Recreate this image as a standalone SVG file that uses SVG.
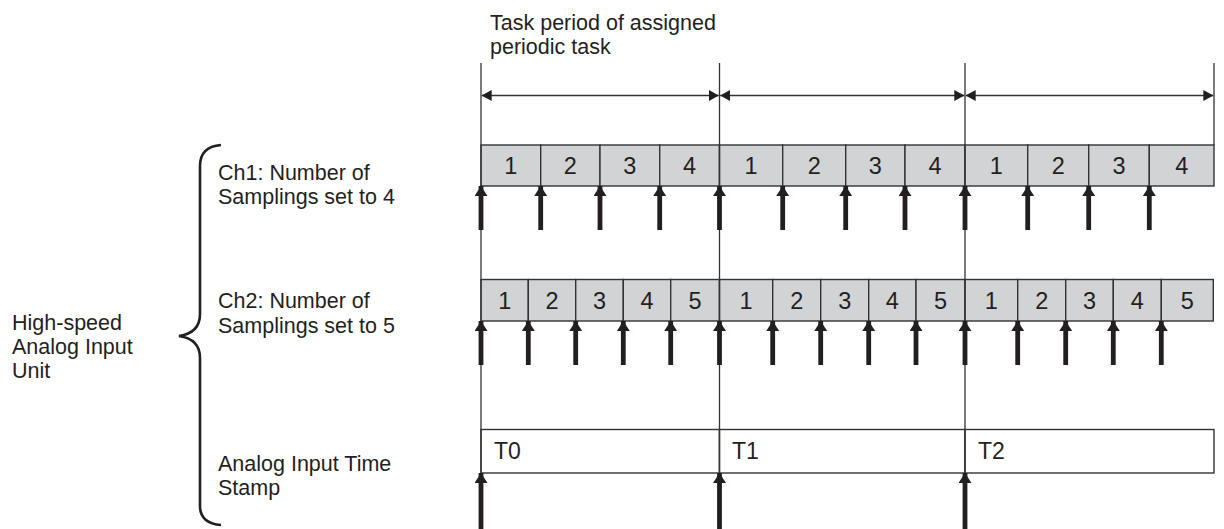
<svg xmlns="http://www.w3.org/2000/svg" width="1224" height="529" viewBox="0 0 1224 529">
<defs>
<style>
.t{font-family:"Liberation Sans",Arial,sans-serif;font-size:21.5px;fill:#231f20}
.n{font-family:"Liberation Sans",Arial,sans-serif;font-size:23.5px;fill:#231f20;text-anchor:middle}
.c{fill:#d1d3d4;stroke:#333;stroke-width:1.4}
.b{fill:#fff;stroke:#333;stroke-width:1.4}
.v{stroke:#333;stroke-width:1.3;fill:none}
.br{stroke:#231f20;stroke-width:2.6;fill:none}
.d{stroke:#333;stroke-width:1.3;fill:none;marker-start:url(#ds);marker-end:url(#de)}
.a{stroke:#231f20;stroke-width:4.8;fill:none;marker-end:url(#ah)}
</style>
<marker id="de" viewBox="0 0 10 11" refX="10" refY="5.5" markerWidth="10" markerHeight="11" markerUnits="userSpaceOnUse" orient="auto"><path d="M0,0 L10,5.5 L0,11 Z" fill="#231f20"/></marker>
<marker id="ds" viewBox="0 0 10 11" refX="0" refY="5.5" markerWidth="10" markerHeight="11" markerUnits="userSpaceOnUse" orient="auto"><path d="M10,0 L0,5.5 L10,11 Z" fill="#231f20"/></marker>
<marker id="ah" viewBox="0 0 10 13" refX="10" refY="6.5" markerWidth="10" markerHeight="13" markerUnits="userSpaceOnUse" orient="auto"><path d="M0,0 L10,6.5 L0,13 Z" fill="#231f20"/></marker>
</defs>
<rect width="1224" height="529" fill="#fff"/>

<g id="labels">
<text class="t" x="490" y="30">Task period of assigned</text>
<text class="t" x="490" y="54">periodic task</text>
<text class="t" x="218" y="180">Ch1: Number of</text>
<text class="t" x="218" y="204">Samplings set to 4</text>
<text class="t" x="218" y="308">Ch2: Number of</text>
<text class="t" x="218" y="333">Samplings set to 5</text>
<text class="t" x="218" y="471">Analog Input Time</text>
<text class="t" x="218" y="495">Stamp</text>
<text class="t" x="12" y="330">High-speed</text>
<text class="t" x="12" y="354">Analog Input</text>
<text class="t" x="12" y="378">Unit</text>
</g>

<g id="brace">
<path class="br" d="M221,145 C208,146 200,152 200,166 L200,314 C200,327 193,334 179,336 C193,338 200,345 200,358 L200,506 C200,518 208,524 221,525"/>
</g>

<g id="ch1">
<rect class="c" x="481" y="145" width="59.7" height="41"/>
<rect class="c" x="540.7" y="145" width="59.3" height="41"/>
<rect class="c" x="600" y="145" width="59.7" height="41"/>
<rect class="c" x="659.7" y="145" width="59.8" height="41"/>
<rect class="c" x="719.5" y="145" width="63.2" height="41"/>
<rect class="c" x="782.7" y="145" width="63" height="41"/>
<rect class="c" x="845.7" y="145" width="59.3" height="41"/>
<rect class="c" x="905" y="145" width="60" height="41"/>
<rect class="c" x="965" y="145" width="62.7" height="41"/>
<rect class="c" x="1027.7" y="145" width="61" height="41"/>
<rect class="c" x="1088.7" y="145" width="60.6" height="41"/>
<rect class="c" x="1149.3" y="145" width="64.7" height="41"/>
<text class="n" x="510.9" y="174">1</text>
<text class="n" x="570.4" y="174">2</text>
<text class="n" x="629.9" y="174">3</text>
<text class="n" x="689.6" y="174">4</text>
<text class="n" x="751.1" y="174">1</text>
<text class="n" x="814.2" y="174">2</text>
<text class="n" x="875.4" y="174">3</text>
<text class="n" x="935" y="174">4</text>
<text class="n" x="996.4" y="174">1</text>
<text class="n" x="1058.2" y="174">2</text>
<text class="n" x="1119" y="174">3</text>
<text class="n" x="1181.7" y="174">4</text>
</g>

<g id="ch2">
<rect class="c" x="481" y="279.5" width="47.3" height="41.5"/>
<rect class="c" x="528.3" y="279.5" width="47.4" height="41.5"/>
<rect class="c" x="575.7" y="279.5" width="47.6" height="41.5"/>
<rect class="c" x="623.3" y="279.5" width="47.4" height="41.5"/>
<rect class="c" x="670.7" y="279.5" width="48.8" height="41.5"/>
<rect class="c" x="719.5" y="279.5" width="53.2" height="41.5"/>
<rect class="c" x="772.7" y="279.5" width="48" height="41.5"/>
<rect class="c" x="820.7" y="279.5" width="48" height="41.5"/>
<rect class="c" x="868.7" y="279.5" width="47.3" height="41.5"/>
<rect class="c" x="916" y="279.5" width="49" height="41.5"/>
<rect class="c" x="965" y="279.5" width="52.7" height="41.5"/>
<rect class="c" x="1017.7" y="279.5" width="48" height="41.5"/>
<rect class="c" x="1065.7" y="279.5" width="47.6" height="41.5"/>
<rect class="c" x="1113.3" y="279.5" width="48" height="41.5"/>
<rect class="c" x="1161.3" y="279.5" width="52" height="41.5"/>
<text class="n" x="504.7" y="309">1</text>
<text class="n" x="552" y="309">2</text>
<text class="n" x="599.5" y="309">3</text>
<text class="n" x="647" y="309">4</text>
<text class="n" x="695.1" y="309">5</text>
<text class="n" x="746.1" y="309">1</text>
<text class="n" x="796.7" y="309">2</text>
<text class="n" x="844.7" y="309">3</text>
<text class="n" x="892.4" y="309">4</text>
<text class="n" x="940.5" y="309">5</text>
<text class="n" x="991.4" y="309">1</text>
<text class="n" x="1041.7" y="309">2</text>
<text class="n" x="1089.5" y="309">3</text>
<text class="n" x="1137.3" y="309">4</text>
<text class="n" x="1187.3" y="309">5</text>
</g>

<g id="timestamp">
<rect class="b" x="481" y="429.5" width="238.5" height="43.5"/>
<rect class="b" x="719.5" y="429.5" width="245.5" height="43.5"/>
<rect class="b" x="965" y="429.5" width="249" height="43.5"/>
<text class="t" x="494" y="459" style="font-size:23px">T0</text>
<text class="t" x="732" y="459" style="font-size:23px">T1</text>
<text class="t" x="978" y="459" style="font-size:23px">T2</text>
</g>

<g id="connectors">
<line class="v" x1="481" y1="63" x2="481" y2="529"/>
<line class="v" x1="719.5" y1="63" x2="719.5" y2="529"/>
<line class="v" x1="965" y1="63" x2="965" y2="529"/>
<line class="v" x1="1214" y1="63" x2="1214" y2="145"/>
<line class="d" x1="481.7" y1="95.5" x2="718.8" y2="95.5"/>
<line class="d" x1="720.2" y1="95.5" x2="964.3" y2="95.5"/>
<line class="d" x1="965.7" y1="95.5" x2="1213.3" y2="95.5"/>

<line class="a" x1="481" y1="230" x2="481" y2="186"/>
<line class="a" x1="540.7" y1="230" x2="540.7" y2="186"/>
<line class="a" x1="600" y1="230" x2="600" y2="186"/>
<line class="a" x1="659.7" y1="230" x2="659.7" y2="186"/>
<line class="a" x1="719.5" y1="230" x2="719.5" y2="186"/>
<line class="a" x1="782.7" y1="230" x2="782.7" y2="186"/>
<line class="a" x1="845.7" y1="230" x2="845.7" y2="186"/>
<line class="a" x1="905" y1="230" x2="905" y2="186"/>
<line class="a" x1="965" y1="230" x2="965" y2="186"/>
<line class="a" x1="1027.7" y1="230" x2="1027.7" y2="186"/>
<line class="a" x1="1088.7" y1="230" x2="1088.7" y2="186"/>
<line class="a" x1="1149.3" y1="230" x2="1149.3" y2="186"/>

<line class="a" x1="481" y1="365" x2="481" y2="321"/>
<line class="a" x1="528.3" y1="365" x2="528.3" y2="321"/>
<line class="a" x1="575.7" y1="365" x2="575.7" y2="321"/>
<line class="a" x1="623.3" y1="365" x2="623.3" y2="321"/>
<line class="a" x1="670.7" y1="365" x2="670.7" y2="321"/>
<line class="a" x1="719.5" y1="365" x2="719.5" y2="321"/>
<line class="a" x1="772.7" y1="365" x2="772.7" y2="321"/>
<line class="a" x1="820.7" y1="365" x2="820.7" y2="321"/>
<line class="a" x1="868.7" y1="365" x2="868.7" y2="321"/>
<line class="a" x1="916" y1="365" x2="916" y2="321"/>
<line class="a" x1="965" y1="365" x2="965" y2="321"/>
<line class="a" x1="1017.7" y1="365" x2="1017.7" y2="321"/>
<line class="a" x1="1065.7" y1="365" x2="1065.7" y2="321"/>
<line class="a" x1="1113.3" y1="365" x2="1113.3" y2="321"/>
<line class="a" x1="1161.3" y1="365" x2="1161.3" y2="321"/>

<line class="a" x1="481" y1="529" x2="481" y2="473"/>
<line class="a" x1="719.5" y1="529" x2="719.5" y2="473"/>
<line class="a" x1="965" y1="529" x2="965" y2="473"/>
</g>
</svg>
